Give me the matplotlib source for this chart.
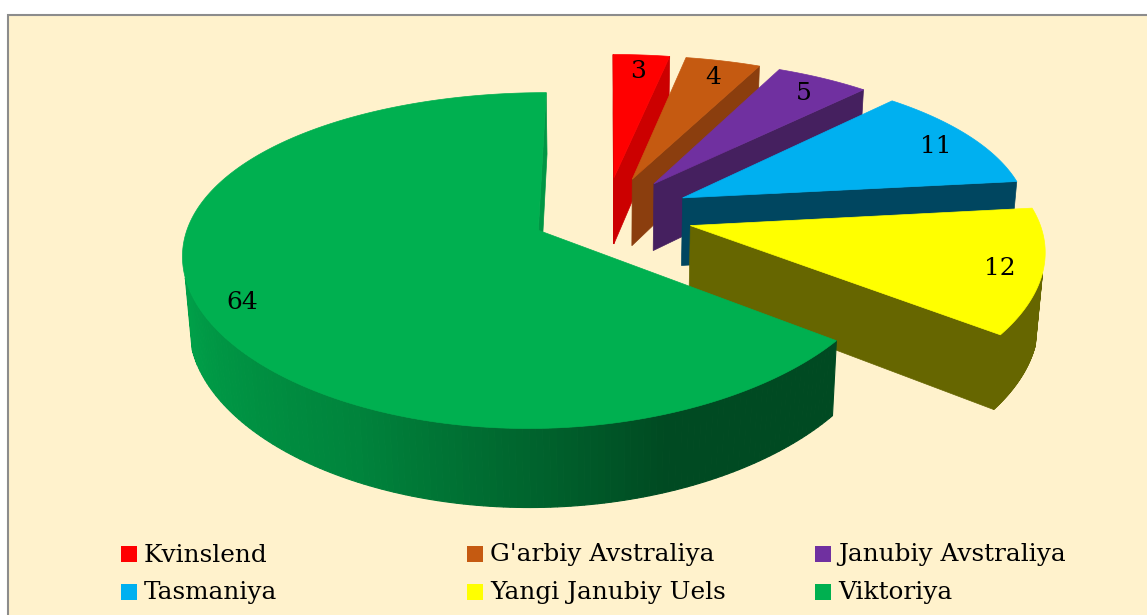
import numpy as np
import matplotlib.pyplot as plt
from matplotlib.patches import Polygon, Rectangle
from matplotlib.colors import to_rgb

# MA'LUMOTLAR
regions = ['Kvinslend', "G'arbiy Avstraliya", 'Janubiy Avstraliya',
           'Tasmaniya', 'Yangi Janubiy Uels', 'Viktoriya']
values = [3, 4, 5, 11, 12, 64]

top_colors = ['#FF0000', '#C55A11', '#7030A0', '#00B0F0', '#FFFF00', '#00B050']
side_colors = ['#CC0000', '#8B3E0E', '#45205F', '#004660', '#666600', None]
explode = [0.25, 0.25, 0.25, 0.25, 0.25, 0.215]

# kamera (3D -> piksel)
W, H = 1147, 615
cx, cy = 606, 215
fx, fy = 2360, 1700
Dx, Dy = 6.8, 5.0     # gorizontal va vertikal perspektiva
alpha = np.radians(27.5)
sa, ca = np.sin(alpha), np.cos(alpha)
depth = 0.232
cam = np.array([0.0, -Dy*ca, Dy*sa])


def proj(X, Y, Z):
    dx = Dx + Y*ca - Z*sa
    dy = Dy + Y*ca - Z*sa
    return cx + fx*X/dx, cy - fy*(Y*sa + Z*ca)/dy


def shade_green(t):
    # t: burchak (daraja), yon devor yorug'ligi
    t = (t + 360) % 360
    return np.interp(t, [180, 200, 244, 270, 290, 360],
                     [0.93, 0.9, 0.75, 0.57, 0.42, 0.42])


fig = plt.figure(figsize=(W/100, H/100), dpi=100)
ax = fig.add_axes([0, 0, 1, 1])
ax.set_xlim(0, W)
ax.set_ylim(H, 0)
ax.axis('off')

ax.add_patch(Rectangle((8, 15), 1300, 800, facecolor='#FFF2CC',
                       edgecolor='#8C8C8C', lw=1.5, zorder=0))

total = sum(values)
cum = np.concatenate([[0], np.cumsum(values)])

for i, v in enumerate(values):
    t1 = 90 - 360*cum[i]/total
    t2 = 90 - 360*cum[i+1]/total
    mid = np.radians((t1 + t2)/2)
    ox, oy = explode[i]*np.cos(mid), explode[i]*np.sin(mid)
    th = np.radians(np.linspace(t1, t2, 240))
    ex = ox + np.cos(th)
    ey = oy + np.sin(th)
    top = top_colors[i]
    side = side_colors[i]

    # radial devorlar
    for t, sgn in [(np.radians(t1), 1), (np.radians(t2), -1)]:
        n = np.array([-np.sin(t), np.cos(t), 0])*sgn
        if n @ (cam - np.array([ox, oy, 0])) > 0:
            px = [ox, ox + np.cos(t), ox + np.cos(t), ox]
            py = [oy, oy + np.sin(t), oy + np.sin(t), oy]
            pz = [0, 0, -depth, -depth]
            xs, ys = proj(np.array(px), np.array(py), np.array(pz))
            col = side if side else tuple(np.array(to_rgb(top))*0.85)
            ax.add_patch(Polygon(np.c_[xs, ys], closed=True, fc=col,
                                 ec=col, lw=0.5, zorder=2*i+1))

    # tashqi devor
    vis = -ox*np.cos(th) - 1 - (Dy*ca + oy)*np.sin(th) > 0
    xt, yt = proj(ex, ey, 0*ex)
    xb, yb = proj(ex, ey, 0*ex - depth)
    for k in range(len(th) - 1):
        if vis[k] and vis[k+1]:
            if side:
                col = side
            else:
                f = shade_green(np.degrees((th[k] + th[k+1])/2))
                col = tuple(np.array(to_rgb(top))*f)
            quad = [(xt[k], yt[k]), (xt[k+1], yt[k+1]),
                    (xb[k+1], yb[k+1]), (xb[k], yb[k])]
            ax.add_patch(Polygon(quad, closed=True, fc=col, ec=col,
                                 lw=0.8, zorder=2*i+1))

    # ustki yuz
    px = np.r_[ox, ex]
    py = np.r_[oy, ey]
    xs, ys = proj(px, py, 0*px)
    ax.add_patch(Polygon(np.c_[xs, ys], closed=True, fc=top, ec=top,
                         lw=0.5, zorder=2*i+2))

    # qiymat yorlig'i
    r = 0.88
    lx, ly = proj(ox + r*np.cos(mid), oy + r*np.sin(mid), 0)
    ax.text(lx, ly + 4, str(v), ha='center', va='center', fontsize=18,
            family='DejaVu Serif', color='black', zorder=20)

# legenda
text_x = [144, 490, 838]
row_y = [554, 592]
for i, name in enumerate(regions):
    x0 = text_x[i % 3]
    y0 = row_y[i // 3]
    ax.add_patch(Rectangle((x0 - 23, y0 - 8), 16, 16, fc=top_colors[i],
                           ec='none', zorder=20))
    ax.text(x0, y0 + 1, name, ha='left', va='center', fontsize=17.8,
            family='DejaVu Serif', color='black', zorder=20)

fig.savefig('out.png', dpi=100, facecolor='white')
